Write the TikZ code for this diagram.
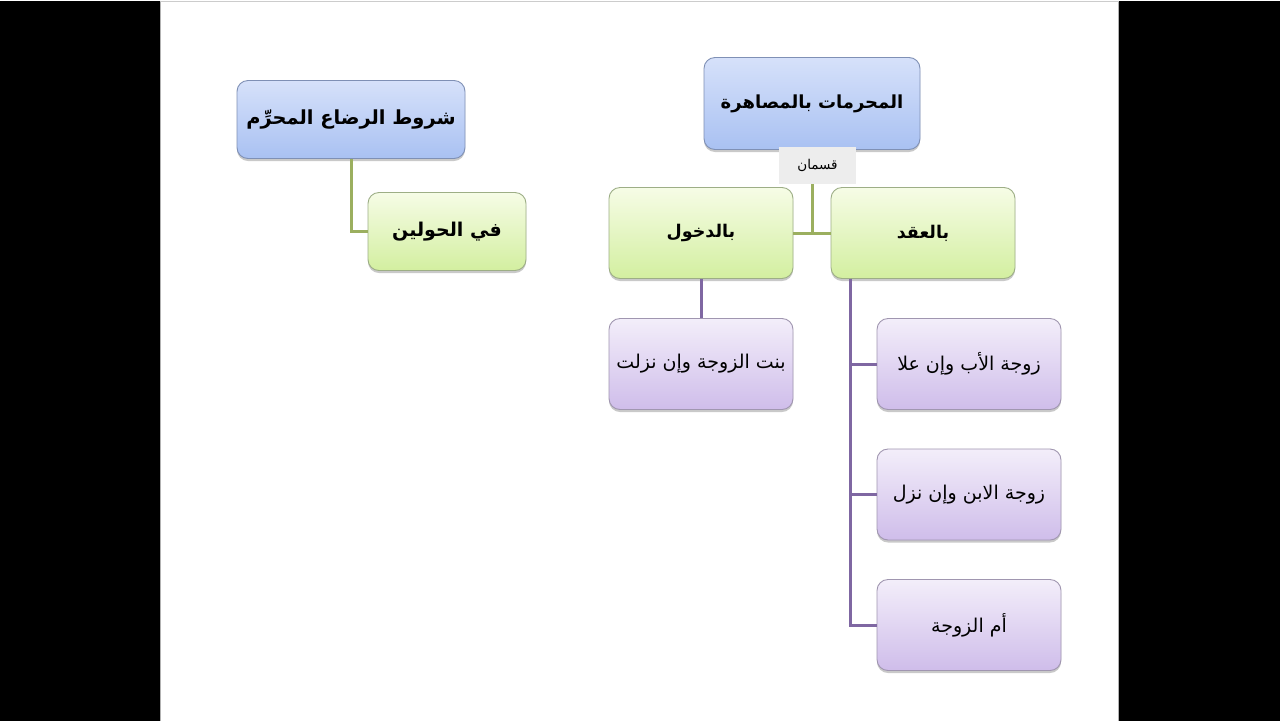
\documentclass[tikz,border=0pt]{standalone}
\usepackage{fontspec}
\usetikzlibrary{shadows}
\TeXXeTstate=1
\newfontfamily\arabicfont[Script=Arabic]{DejaVu Sans}
\definecolor{bluetop}{HTML}{D6E1FA}
\definecolor{bluebot}{HTML}{A9C1F2}
\definecolor{blueline}{HTML}{7F90B5}
\definecolor{greentop}{HTML}{F6FCE6}
\definecolor{greenbot}{HTML}{D3EFA0}
\definecolor{greenline}{HTML}{9DAE86}
\definecolor{purptop}{HTML}{F3EEFA}
\definecolor{purpbot}{HTML}{CFBDEA}
\definecolor{purpline}{HTML}{A096B0}
\definecolor{olive}{HTML}{9BAF5F}
\definecolor{violet}{HTML}{7F67A2}
\definecolor{lblgray}{HTML}{EDEDED}
\tikzset{
  box/.style={rounded corners=11pt, draw, line width=0.9pt, align=center, inner sep=2pt,
    drop shadow={shadow xshift=0pt, shadow yshift=-2.5pt, opacity=0.35, fill=black!60}},
  bluebox/.style={box, top color=bluetop, bottom color=bluebot, draw=blueline},
  greenbox/.style={box, top color=greentop, bottom color=greenbot, draw=greenline},
  purpbox/.style={box, top color=purptop, bottom color=purpbot, draw=purpline,
    minimum width=184pt, minimum height=91pt, font=\arabicfont\fontsize{19}{22}\selectfont},
  gline/.style={draw=olive, line width=3pt},
  pline/.style={draw=violet, line width=3pt},
}
\begin{document}
\begin{tikzpicture}[x=1pt,y=-1pt]
\fill[black] (0,0) rectangle (1280,720);
\fill[white] (160,0) rectangle (1119,720);
\draw[gray!60, line width=1pt] (160.5,0) -- (160.5,720);
\draw[gray!60, line width=1pt] (1118.5,0) -- (1118.5,720);
\draw[gray!40, line width=0.8pt] (160,1) -- (1119,1);
\useasboundingbox (0,0) rectangle (1280,720);

% left tree
\node[bluebox, minimum width=228pt, minimum height=78pt, font=\arabicfont\bfseries\fontsize{19.4}{23}\selectfont] (H) at (351,119) {\beginR شروط الرضاع المحرِّم\endR};
\node[greenbox, minimum width=158pt, minimum height=78pt, font=\arabicfont\bfseries\fontsize{19}{23}\selectfont] (I) at (447,231) {\beginR في الحولين\endR};
\draw[gline] (H.south) |- (I.west);

% right tree
\node[bluebox, minimum width=216pt, minimum height=92pt, font=\arabicfont\bfseries\fontsize{18}{22}\selectfont] (A) at (812,103) {\beginR المحرمات بالمصاهرة\endR};
\node[greenbox, minimum width=184pt, minimum height=91pt, font=\arabicfont\bfseries\fontsize{17.5}{21}\selectfont] (B) at (701,232.5) {\beginR بالدخول\endR};
\node[greenbox, minimum width=184pt, minimum height=91pt, font=\arabicfont\bfseries\fontsize{17.5}{21}\selectfont] (C) at (923,232.5) {\beginR بالعقد\endR};
\coordinate (J) at (812,232.5);
\draw[gline] (A.south -| J) -- (J);
\draw[gline] (B.east) -- (C.west);
\node[fill=lblgray, minimum width=77pt, minimum height=37pt, inner sep=0pt, font=\arabicfont\fontsize{13.5}{16}\selectfont] (L) at (817.5,164.5) {\beginR قسمان\endR};

\node[purpbox] (D) at (701,363.5) {\beginR بنت الزوجة وإن نزلت\endR};
\node[purpbox] (E) at (969,363.5) {\beginR زوجة الأب وإن علا\endR};
\node[purpbox] (F) at (969,494) {\beginR زوجة الابن وإن نزل\endR};
\node[purpbox] (G) at (969,624.5) {\beginR أم الزوجة\endR};
\draw[pline] (B.south) -- (D.north);
\coordinate (K) at (850,0);
\draw[pline] (C.south -| K) |- (E.west);
\draw[pline] (C.south -| K) |- (F.west);
\draw[pline] (C.south -| K) |- (G.west);
\end{tikzpicture}
\end{document}
